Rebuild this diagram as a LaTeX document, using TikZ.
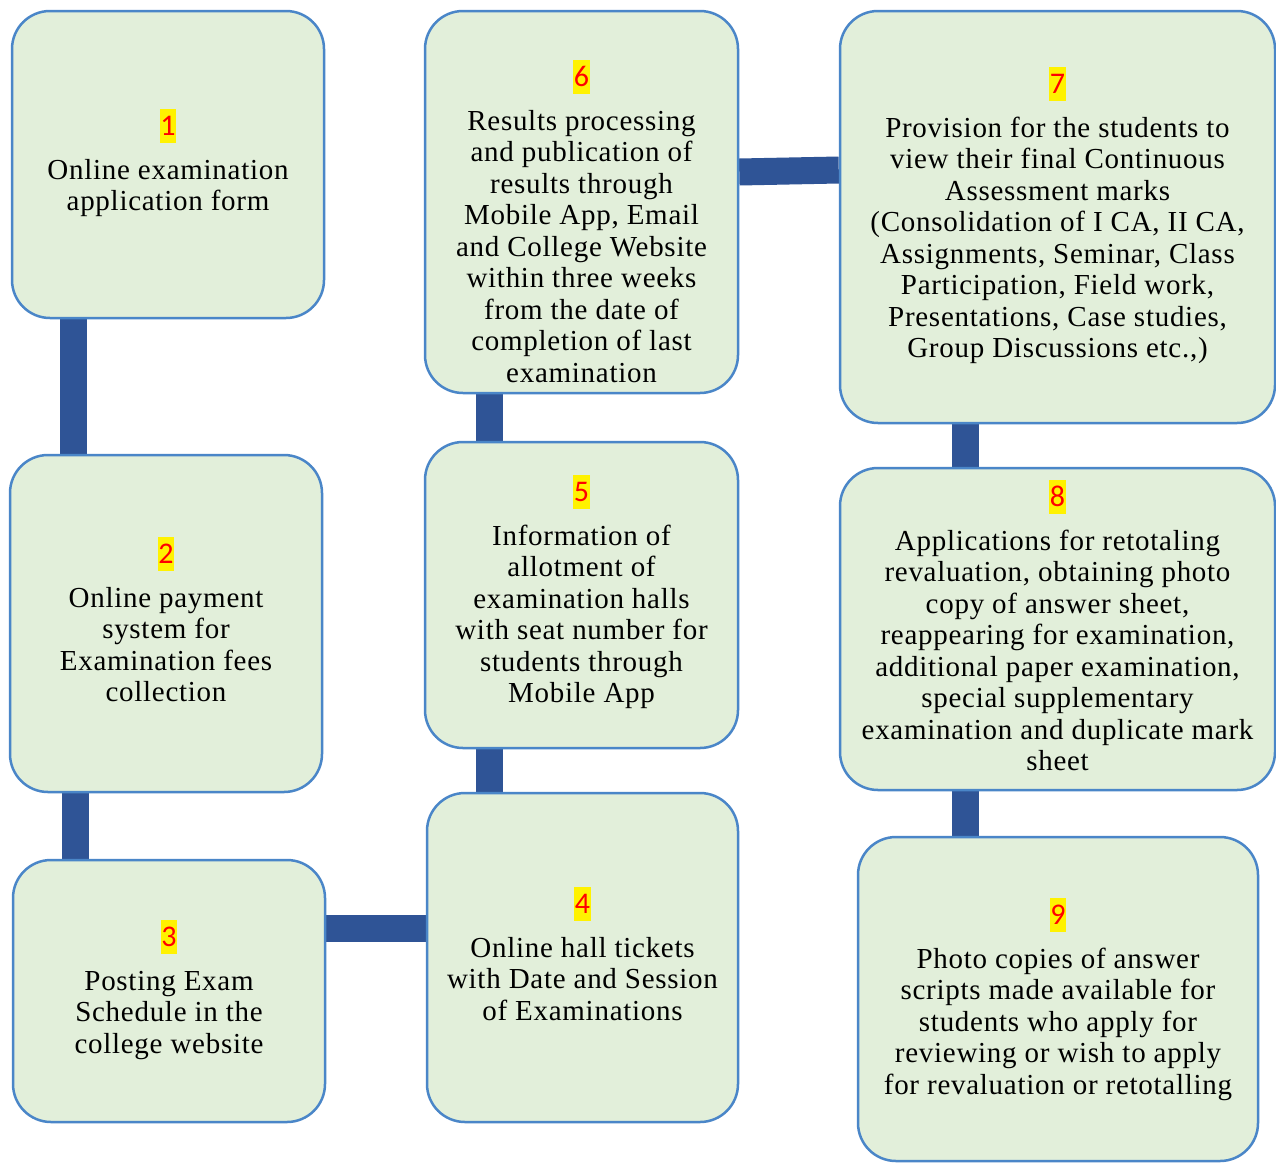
\documentclass[tikz,border=0pt]{standalone}
\usepackage{fontspec}
\setmainfont{Liberation Serif}
\newfontfamily\bodyfont{Liberation Serif}[LetterSpace=2.5]
\newfontfamily\numfont{Carlito}
\usetikzlibrary{backgrounds}
\definecolor{boxfill}{HTML}{E2EFDA}
\definecolor{boxline}{HTML}{4A86C8}
\definecolor{conncol}{HTML}{2F5496}
\tikzset{
  stepbox/.style={rectangle, draw=boxline, line width=2.5pt, fill=boxfill, rounded corners=38pt, inner sep=0pt},
  numlabel/.style={fill=yellow, text=red, font={\numfont\fontsize{30}{34}\selectfont}, inner xsep=0.5pt, inner ysep=0pt, text height=26pt, text depth=8pt, anchor=base},
  bodytext/.style={align=center, font={\bodyfont\fontsize{29}{31.5}\selectfont}, inner sep=0pt, anchor=north},
  conn/.style={draw=conncol, line width=27pt},
}
\begin{document}
\begin{tikzpicture}[x=1pt,y=-1pt]
\useasboundingbox (0,0) rectangle (1276,1162);
% boxes
\node[stepbox, minimum width=312pt, minimum height=307pt] (b1) at (168,164.5) {};
\node[stepbox, minimum width=312pt, minimum height=337pt] (b2) at (166,623.5) {};
\node[stepbox, minimum width=312pt, minimum height=262pt] (b3) at (169,991) {};
\node[stepbox, minimum width=311pt, minimum height=329pt] (b4) at (582.5,957.5) {};
\node[stepbox, minimum width=313pt, minimum height=306pt] (b5) at (581.5,595) {};
\node[stepbox, minimum width=313pt, minimum height=382pt] (b6) at (581.5,202) {};
\node[stepbox, minimum width=435pt, minimum height=412pt] (b7) at (1057.5,217) {};
\node[stepbox, minimum width=435pt, minimum height=322pt] (b8) at (1057.5,629) {};
\node[stepbox, minimum width=400pt, minimum height=324pt] (b9) at (1058,999) {};
% numbers
\node[numlabel] (n1) at (168,135) {1};
\node[numlabel] (n2) at (166,563) {2};
\node[numlabel] (n3) at (169,946) {3};
\node[numlabel] (n4) at (582.5,913) {4};
\node[numlabel] (n5) at (581.5,501) {5};
\node[numlabel] (n6) at (581.5,86) {6};
\node[numlabel] (n7) at (1057.5,93) {7};
\node[numlabel] (n8) at (1057.5,506) {8};
\node[numlabel] (n9) at (1058,924) {9};
% texts
\node[bodytext] (t1) at (168,179-22.05) {\strut Online examination\\application form};
\node[bodytext] (t2) at (166,607-22.05) {\strut Online payment\\system for\\Examination fees\\collection};
\node[bodytext] (t3) at (169,990-22.05) {\strut Posting Exam\\Schedule in the\\college website};
\node[bodytext] (t4) at (582.5,957-22.05) {\strut Online hall tickets\\with Date and Session\\of Examinations};
\node[bodytext] (t5) at (581.5,545-22.05) {\strut Information of\\allotment of\\examination halls\\with seat number for\\students through\\Mobile App};
\node[bodytext] (t6) at (581.5,130-22.05) {\strut Results processing\\and publication of\\results through\\Mobile App, Email\\and College Website\\within three weeks\\from the date of\\completion of last\\examination};
\node[bodytext] (t7) at (1057.5,137-22.05) {\strut Provision for the students to\\view their final Continuous\\Assessment marks\\(Consolidation of I CA, II CA,\\Assignments, Seminar, Class\\Participation, Field work,\\Presentations, Case studies,\\Group Discussions etc.,)};
\node[bodytext] (t8) at (1057.5,550-22.05) {\strut Applications for retotaling\\revaluation, obtaining photo\\copy of answer sheet,\\reappearing for examination,\\additional paper examination,\\special supplementary\\examination and duplicate mark\\sheet};
\node[bodytext] (t9) at (1058,968-22.05) {\strut Photo copies of answer\\scripts made available for\\students who apply for\\reviewing or wish to apply\\for revaluation or retotalling};
% connectors
\begin{scope}[on background layer]
\fill[white] (0,0) rectangle (1276,1162);
\draw[conn] ([xshift=-94.5pt]b1.south) -- ([xshift=-92.5pt]b2.north);
\draw[conn] ([xshift=-91pt]b2.south) -- ([xshift=-94pt]b3.north);
\draw[conn] ([yshift=63pt]b3.east) -- ([yshift=29.5pt]b4.west);
\draw[conn] ([xshift=-93.5pt]b4.north) -- ([xshift=-92.5pt]b5.south);
\draw[conn] ([xshift=-92.5pt]b5.north) -- ([xshift=-92.5pt]b6.south);
\draw[conn] ([yshift=30pt]b6.east) -- ([yshift=47pt]b7.west);
\draw[conn] ([xshift=-92.5pt]b7.south) -- ([xshift=-92.5pt]b8.north);
\draw[conn] ([xshift=-92.5pt]b8.south) -- ([xshift=-93pt]b9.north);
\end{scope}
\end{tikzpicture}
\end{document}
